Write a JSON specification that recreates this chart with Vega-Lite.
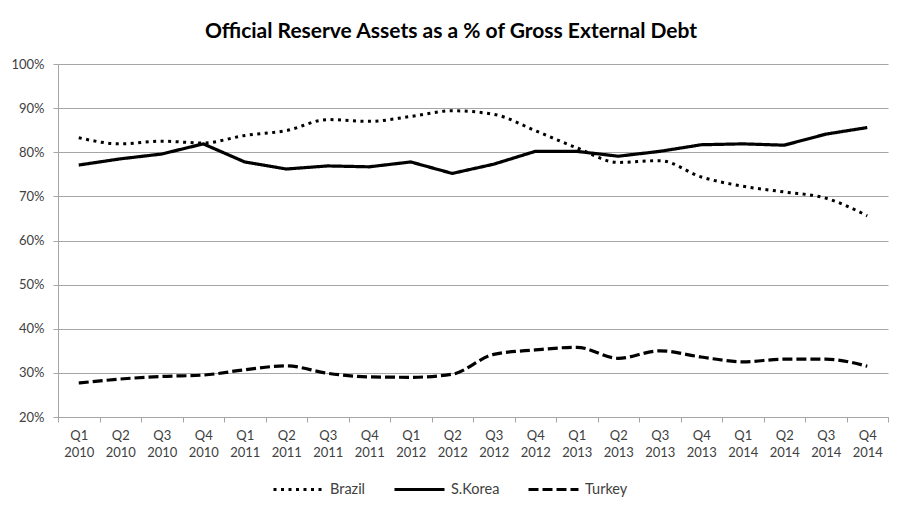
{
  "$schema": "https://vega.github.io/schema/vega-lite/v6.json",
  "autosize": "none",
  "width": 830,
  "height": 353,
  "padding": {"left": 58, "top": 64, "right": 25, "bottom": 89},
  "background": "white",
  "title": {
    "text": "Official Reserve Assets as a % of Gross External Debt",
    "font": "Lato",
    "fontSize": 21,
    "fontWeight": "bold",
    "color": "#000000",
    "anchor": "middle",
    "dx": -22,
    "offset": 16
  },
  "config": {
    "view": {"stroke": null},
    "font": "Lato"
  },
  "data": {
    "values": [
      {"q": "Q1 2010", "country": "Brazil", "v": 83.3},
      {"q": "Q2 2010", "country": "Brazil", "v": 81.9},
      {"q": "Q3 2010", "country": "Brazil", "v": 82.5},
      {"q": "Q4 2010", "country": "Brazil", "v": 82.1},
      {"q": "Q1 2011", "country": "Brazil", "v": 83.8},
      {"q": "Q2 2011", "country": "Brazil", "v": 84.9},
      {"q": "Q3 2011", "country": "Brazil", "v": 87.4},
      {"q": "Q4 2011", "country": "Brazil", "v": 87.0},
      {"q": "Q1 2012", "country": "Brazil", "v": 88.1},
      {"q": "Q2 2012", "country": "Brazil", "v": 89.4},
      {"q": "Q3 2012", "country": "Brazil", "v": 88.6},
      {"q": "Q4 2012", "country": "Brazil", "v": 84.9},
      {"q": "Q1 2013", "country": "Brazil", "v": 81.0},
      {"q": "Q2 2013", "country": "Brazil", "v": 77.7},
      {"q": "Q3 2013", "country": "Brazil", "v": 78.1},
      {"q": "Q4 2013", "country": "Brazil", "v": 74.4},
      {"q": "Q1 2014", "country": "Brazil", "v": 72.3},
      {"q": "Q2 2014", "country": "Brazil", "v": 71.0},
      {"q": "Q3 2014", "country": "Brazil", "v": 69.6},
      {"q": "Q4 2014", "country": "Brazil", "v": 65.6},
      {"q": "Q1 2010", "country": "S.Korea", "v": 77.1},
      {"q": "Q2 2010", "country": "S.Korea", "v": 78.5},
      {"q": "Q3 2010", "country": "S.Korea", "v": 79.6},
      {"q": "Q4 2010", "country": "S.Korea", "v": 81.9},
      {"q": "Q1 2011", "country": "S.Korea", "v": 77.8},
      {"q": "Q2 2011", "country": "S.Korea", "v": 76.2},
      {"q": "Q3 2011", "country": "S.Korea", "v": 76.9},
      {"q": "Q4 2011", "country": "S.Korea", "v": 76.7},
      {"q": "Q1 2012", "country": "S.Korea", "v": 77.8},
      {"q": "Q2 2012", "country": "S.Korea", "v": 75.2},
      {"q": "Q3 2012", "country": "S.Korea", "v": 77.3},
      {"q": "Q4 2012", "country": "S.Korea", "v": 80.2},
      {"q": "Q1 2013", "country": "S.Korea", "v": 80.2},
      {"q": "Q2 2013", "country": "S.Korea", "v": 79.1},
      {"q": "Q3 2013", "country": "S.Korea", "v": 80.2},
      {"q": "Q4 2013", "country": "S.Korea", "v": 81.7},
      {"q": "Q1 2014", "country": "S.Korea", "v": 81.9},
      {"q": "Q2 2014", "country": "S.Korea", "v": 81.6},
      {"q": "Q3 2014", "country": "S.Korea", "v": 84.1},
      {"q": "Q4 2014", "country": "S.Korea", "v": 85.6},
      {"q": "Q1 2010", "country": "Turkey", "v": 27.7},
      {"q": "Q2 2010", "country": "Turkey", "v": 28.6},
      {"q": "Q3 2010", "country": "Turkey", "v": 29.2},
      {"q": "Q4 2010", "country": "Turkey", "v": 29.5},
      {"q": "Q1 2011", "country": "Turkey", "v": 30.7},
      {"q": "Q2 2011", "country": "Turkey", "v": 31.6},
      {"q": "Q3 2011", "country": "Turkey", "v": 29.9},
      {"q": "Q4 2011", "country": "Turkey", "v": 29.1},
      {"q": "Q1 2012", "country": "Turkey", "v": 29.0},
      {"q": "Q2 2012", "country": "Turkey", "v": 29.7},
      {"q": "Q3 2012", "country": "Turkey", "v": 34.2},
      {"q": "Q4 2012", "country": "Turkey", "v": 35.2},
      {"q": "Q1 2013", "country": "Turkey", "v": 35.8},
      {"q": "Q2 2013", "country": "Turkey", "v": 33.3},
      {"q": "Q3 2013", "country": "Turkey", "v": 35.0},
      {"q": "Q4 2013", "country": "Turkey", "v": 33.6},
      {"q": "Q1 2014", "country": "Turkey", "v": 32.5},
      {"q": "Q2 2014", "country": "Turkey", "v": 33.1},
      {"q": "Q3 2014", "country": "Turkey", "v": 33.1},
      {"q": "Q4 2014", "country": "Turkey", "v": 31.5}
    ]
  },
  "encoding": {
    "x": {
      "field": "q",
      "type": "ordinal",
      "sort": null,
      "bandPosition": 0.5,
      "scale": {"type": "band", "paddingInner": 0, "paddingOuter": 0},
      "axis": {
        "title": null,
        "labelAngle": 0,
        "labelExpr": "split(datum.label, ' ')",
        "labelFont": "Lato",
        "labelFontSize": 13,
        "labelColor": "#404040",
        "labelLineHeight": 17,
        "labelPadding": 7,
        "labelBaseline": "top",
        "tickBand": "extent",
        "tickSize": 5,
        "tickColor": "#a6a6a6",
        "domainColor": "#a6a6a6",
        "grid": false
      }
    },
    "y": {
      "field": "v",
      "type": "quantitative",
      "scale": {"domain": [20, 100], "nice": false, "zero": false},
      "axis": {
        "title": null,
        "values": [20, 30, 40, 50, 60, 70, 80, 90, 100],
        "labelExpr": "datum.value + '%'",
        "labelFont": "Lato",
        "labelFontSize": 13,
        "labelColor": "#404040",
        "labelPadding": 9,
        "tickSize": 5,
        "tickColor": "#a6a6a6",
        "domainColor": "#a6a6a6",
        "gridColor": "#a6a6a6",
        "gridWidth": 1
      }
    },
    "strokeDash": {
      "field": "country",
      "type": "nominal",
      "scale": {
        "domain": ["Brazil", "S.Korea", "Turkey"],
        "range": [[3, 4.5], [1, 0], [10, 4]]
      },
      "legend": {
        "title": null,
        "orient": "none",
        "direction": "horizontal",
        "legendX": 214,
        "legendY": 399,
        "symbolType": "stroke",
        "symbolSize": 2500,
        "symbolStrokeWidth": 3,
        "symbolStrokeColor": "#000000",
        "labelFont": "Lato",
        "labelFontSize": 14.5,
        "labelColor": "#404040",
        "labelOffset": 5,
        "columnPadding": 22
      }
    }
  },
  "layer": [
    {
      "transform": [{"filter": "datum.country === 'Brazil'"}],
      "mark": {"type": "line", "color": "#000000", "strokeWidth": 3, "interpolate": "monotone"}
    },
    {
      "transform": [{"filter": "datum.country === 'S.Korea'"}],
      "mark": {"type": "line", "color": "#000000", "strokeWidth": 3.2, "interpolate": "linear"}
    },
    {
      "transform": [{"filter": "datum.country === 'Turkey'"}],
      "mark": {"type": "line", "color": "#000000", "strokeWidth": 3.2, "interpolate": "monotone"}
    }
  ]
}
